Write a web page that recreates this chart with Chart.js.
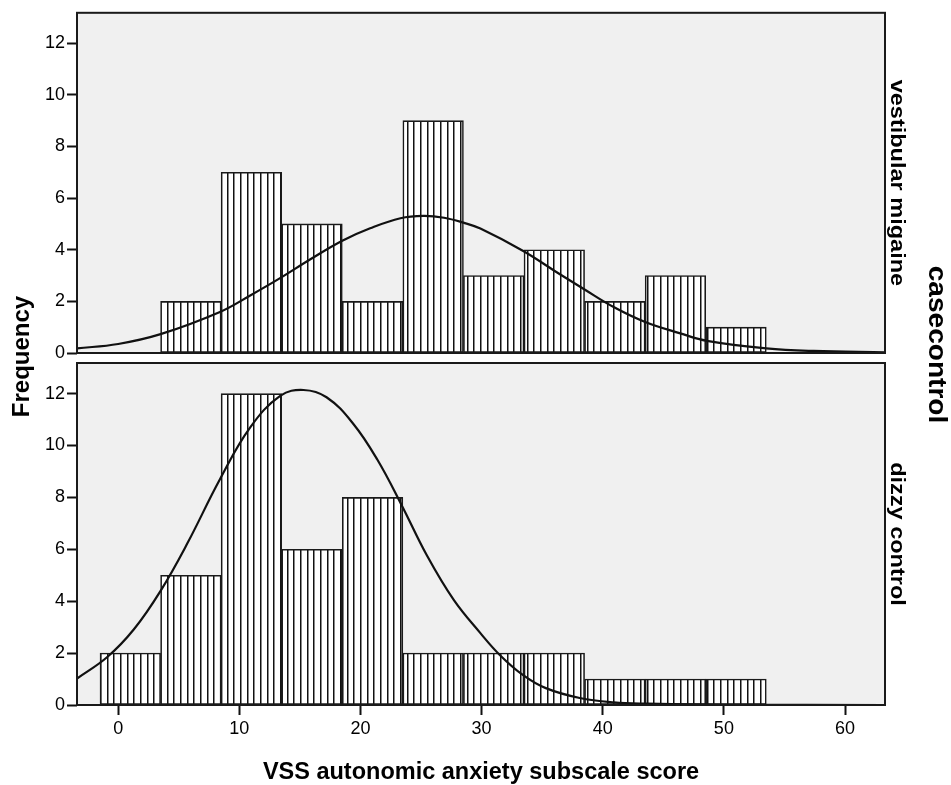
<!DOCTYPE html>
<html>
<head>
<meta charset="utf-8">
<script src="https://cdn.jsdelivr.net/npm/chart.js@4.4.1/dist/chart.umd.min.js"></script>
<style>
  html, body { margin: 0; padding: 0; background: #ffffff; }
  #wrap { position: relative; width: 951px; height: 785px; }
  #wrap canvas { position: absolute; left: 0; top: 0; }
</style>
</head>
<body>
<div id="wrap">
  <canvas id="panelTop" width="951" height="785"></canvas>
  <canvas id="panelBottom" width="951" height="785"></canvas>
</div>
<script>
// ---- data ----
const binCenters = [1, 6, 11, 16, 21, 26, 31, 36, 41, 46, 51];
const migraineCounts = [null, 2, 7, 5, 2, 9, 3, 4, 2, 3, 1];
const dizzyCounts = [2, 5, 12, 6, 8, 2, 2, 2, 1, 1, 1];

// fitted normal curves, sampled along the score axis
const migraineCurveX = [-3.4, 0, 3.5, 8.4, 10.9, 13.4, 15.9, 18.5, 20.8, 23.3, 25.2, 26.9, 28.5, 29.9, 33.4, 36.2, 38.4, 40.9, 43.5, 46.4, 48.6, 53.5, 57.4, 63.3];
const migraineCurveY = [0.18, 0.35, 0.73, 1.59, 2.23, 2.91, 3.64, 4.35, 4.83, 5.22, 5.31, 5.24, 5.05, 4.82, 3.96, 3.13, 2.49, 1.78, 1.20, 0.76, 0.47, 0.18, 0.08, 0.03];
const dizzyCurveX = [-3.4, -0.9, 1.3, 3.5, 5.7, 8.4, 10.9, 13.4, 15.3, 17.2, 19.4, 21.4, 23.4, 25.5, 27.7, 29.9, 31.5, 33.4, 35.3, 38.1, 40.9, 43.6, 50, 63.3];
const dizzyCurveY = [1.02, 1.85, 2.92, 4.40, 6.22, 8.70, 10.70, 11.92, 12.14, 11.86, 10.84, 9.45, 7.70, 5.75, 4.05, 2.77, 1.93, 1.16, 0.65, 0.27, 0.10, 0.05, 0.01, 0];

const xTicks = [0, 10, 20, 30, 40, 50, 60];
const yTicks = [0, 2, 4, 6, 8, 10, 12];

const panelNames = ['vestibular migaine', 'dizzy control'];
const groupTitle = 'casecontrol';
const yTitle = 'Frequency';
const xTitle = 'VSS autonomic anxiety subscale score';

// ---- appearance ----
const FONT = "'Liberation Sans', Arial, Helvetica, sans-serif";
Chart.defaults.font.family = FONT;
Chart.defaults.color = '#000';

const X_MIN = -3.4, X_MAX = 63.3, Y_MAX = 13.18;
const AREA_LEFT = 77, AREA_RIGHT = 885;
const TOP_PANEL = { top: 10, bottom: 353 };
const BOTTOM_PANEL = { top: 363, bottom: 705 };

// vertical hatch fill for the histogram bars
function makeHatch() {
  const tile = document.createElement('canvas');
  tile.width = 20; tile.height = 4;
  const t = tile.getContext('2d');
  t.fillStyle = '#ffffff';
  t.fillRect(0, 0, 20, 4);
  t.fillStyle = '#111111';
  [0, 7, 13].forEach(x => t.fillRect(x, 0, 1.5, 4));
  return t.createPattern(tile, 'repeat');
}
const hatch = makeHatch();

const panelFrame = {
  id: 'panelFrame',
  beforeDraw(chart) {
    const { ctx, chartArea: a } = chart;
    ctx.save();
    ctx.fillStyle = '#f0f0f0';
    ctx.fillRect(a.left, a.top, a.right - a.left, a.bottom - a.top);
    ctx.restore();
  },
  afterDatasetsDraw(chart) {
    const { ctx, chartArea: a } = chart;
    ctx.save();
    ctx.strokeStyle = '#1a1a1a';
    ctx.lineWidth = 2;
    ctx.strokeRect(a.left, a.top, a.right - a.left, a.bottom - a.top);
    ctx.restore();
  }
};

function drawRotated(ctx, text, x, y, angle, font, stretch) {
  ctx.save();
  ctx.translate(x, y);
  ctx.rotate(angle);
  ctx.scale(stretch, 1);
  ctx.font = font;
  ctx.fillStyle = '#000';
  ctx.textAlign = 'center';
  ctx.textBaseline = 'alphabetic';
  ctx.fillText(text, 0, 0);
  ctx.restore();
}

function panelLabel(text) {
  return {
    id: 'panelLabel',
    afterDraw(chart) {
      const a = chart.chartArea;
      drawRotated(chart.ctx, text, a.right + 6, (a.top + a.bottom) / 2, Math.PI / 2, 'bold 21px ' + FONT, 1.12);
    }
  };
}

const sharedTitles = {
  id: 'sharedTitles',
  afterDraw(chart) {
    const ctx = chart.ctx;
    const mid = (TOP_PANEL.top + BOTTOM_PANEL.bottom) / 2;
    drawRotated(ctx, yTitle, 29, mid - 1, -Math.PI / 2, 'bold 24px ' + FONT, 1.0);
    drawRotated(ctx, groupTitle, 929, mid - 13, Math.PI / 2, 'bold 26px ' + FONT, 1.08);
  }
};

function points(xs, ys) {
  return xs.map((x, i) => ({ x: x, y: ys[i] }));
}

function buildPanel(canvasId, counts, curveX, curveY, panel, showX, extraPlugins) {
  const bottomSpace = 785 - panel.bottom;
  return new Chart(document.getElementById(canvasId), {
    type: 'bar',
    data: {
      datasets: [
        {
          type: 'line',
          data: points(curveX, curveY),
          borderColor: '#111111',
          borderWidth: 2.2,
          pointRadius: 0,
          fill: false,
          tension: 0.4,
          order: 1
        },
        {
          type: 'bar',
          data: points(binCenters, counts),
          backgroundColor: hatch,
          borderColor: '#1a1a1a',
          borderWidth: 1.6,
          borderSkipped: false,
          barPercentage: 1.0,
          categoryPercentage: 1.0,
          order: 2
        }
      ]
    },
    options: {
      responsive: false,
      devicePixelRatio: 1,
      animation: false,
      events: [],
      layout: {
        padding: {
          left: 0,
          right: 951 - AREA_RIGHT,
          top: panel.top,
          bottom: showX ? 0 : bottomSpace
        }
      },
      plugins: { legend: { display: false }, tooltip: { enabled: false } },
      scales: {
        x: {
          type: 'linear',
          display: showX,
          min: X_MIN,
          max: X_MAX,
          offset: false,
          afterBuildTicks(scale) { scale.ticks = xTicks.map(v => ({ value: v })); },
          afterFit(scale) { if (showX) scale.height = bottomSpace; },
          grid: {
            offset: false,
            drawOnChartArea: false,
            drawTicks: true,
            tickLength: 10,
            tickWidth: 2,
            tickColor: '#111'
          },
          border: { display: false },
          ticks: { font: { size: 18 }, color: '#000', padding: 3, maxRotation: 0 },
          title: {
            display: true,
            text: xTitle,
            font: { size: 23.5, weight: 'bold' },
            color: '#000',
            padding: { top: 0, bottom: -2 }
          }
        },
        y: {
          type: 'linear',
          min: 0,
          max: Y_MAX,
          afterBuildTicks(scale) { scale.ticks = yTicks.map(v => ({ value: v })); },
          afterFit(scale) { scale.width = AREA_LEFT; },
          grid: {
            drawOnChartArea: false,
            drawTicks: true,
            tickLength: 10,
            tickWidth: 2,
            tickColor: '#111'
          },
          border: { display: false },
          ticks: { font: { size: 18 }, color: '#000', padding: 2 }
        }
      }
    },
    plugins: [panelFrame].concat(extraPlugins)
  });
}

buildPanel('panelTop', migraineCounts, migraineCurveX, migraineCurveY, TOP_PANEL, false, [panelLabel(panelNames[0])]);
buildPanel('panelBottom', dizzyCounts, dizzyCurveX, dizzyCurveY, BOTTOM_PANEL, true, [panelLabel(panelNames[1]), sharedTitles]);
</script>
</body>
</html>
